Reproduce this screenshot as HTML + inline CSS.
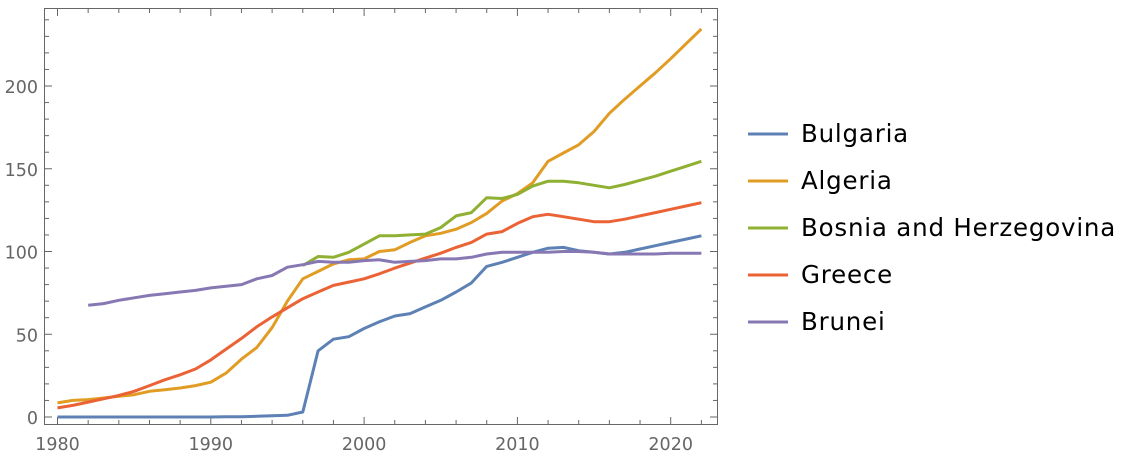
<!DOCTYPE html>
<html><head><meta charset="utf-8"><style>
body{margin:0;background:#fff;}
svg{display:block;font-family:"DejaVu Sans","Liberation Sans",sans-serif;}
</style></head><body>
<svg id="s" width="1126" height="458" viewBox="0 0 1126 458" xmlns="http://www.w3.org/2000/svg">
<rect x="44.5" y="8.5" width="673" height="416" fill="none" stroke="#666" stroke-width="1"/>
<g id="ticks" stroke="#666" stroke-width="1"></g>
<g id="labels" fill="#666" font-size="17.5"></g>
<g id="lines" fill="none" stroke-width="3" stroke-linejoin="round"></g>
<g font-size="24.5" fill="#000" letter-spacing="0.8">
<line x1="748" y1="134" x2="788" y2="134" stroke="#5e81b5" stroke-width="3"/><text x="801" y="142">Bulgaria</text>
<line x1="748" y1="181" x2="788" y2="181" stroke="#e19c24" stroke-width="3"/><text x="801" y="189">Algeria</text>
<line x1="748" y1="228" x2="788" y2="228" stroke="#8fb032" stroke-width="3"/><text x="801" y="236">Bosnia and Herzegovina</text>
<line x1="748" y1="275" x2="788" y2="275" stroke="#eb6235" stroke-width="3"/><text x="801" y="283">Greece</text>
<line x1="748" y1="322" x2="788" y2="322" stroke="#8778b3" stroke-width="3"/><text x="801" y="330">Brunei</text>
</g>
</svg>
<script>
var X=function(y){return 57.5+(y-1980)*15.33;};
var Y=function(v){return 417-v*1.655;};
var ns="http://www.w3.org/2000/svg";
function el(p,t,a,txt){var e=document.createElementNS(ns,t);for(var k in a)e.setAttribute(k,a[k]);if(txt)e.textContent=txt;document.getElementById(p).appendChild(e);}
for(var y=1980;y<=2022;y+=2){var big=y%10==0;el("ticks","line",{x1:X(y),x2:X(y),y1:424,y2:big?417:420});el("ticks","line",{x1:X(y),x2:X(y),y1:9,y2:big?16:13});}
for(var y=1980;y<=2020;y+=10)el("labels","text",{x:X(y),y:450,"text-anchor":"middle"},""+y);
for(var v=0;v<=240;v+=10){var big=v%50==0;if(Y(v)<9)continue;el("ticks","line",{x1:45,x2:big?52:49,y1:Y(v),y2:Y(v)});el("ticks","line",{x1:717,x2:big?710:713,y1:Y(v),y2:Y(v)});}
for(var v=0;v<=200;v+=50)el("labels","text",{x:38,y:Y(v)+7,"text-anchor":"end"},""+v);
var D=[
["#5e81b5",1980,[0,0,0,0,0,0,0,0,0,0,0,0.1,0.2,0.4,0.7,1,3,40,47,48.5,53.5,57.5,61,62.5,66.5,70.5,75.5,81,91,93.5,96.5,99.5,102,102.5,100.5,99.5,98.5,99.5,101.5,103.5,105.5,107.5,109.5]],
["#e19c24",1980,[8.5,10,10.5,11.5,12.5,13.5,15.5,16.5,17.5,19,21,26.5,35,42,54,70,83.5,88,92.5,95,95.5,100,101,105.5,109.5,111,113.5,117.5,123,130.5,135,141.5,154.5,159.5,164.5,172.5,183.5,192,200,208,216.5,225.5,234.5]],
["#8fb032",1996,[91.5,97,96.5,99.5,104.5,109.5,109.5,110,110.5,114.5,121.5,123.5,132.5,132,134.5,139.5,142.5,142.5,141.5,140,138.5,140.5,143,145.5,148.5,151.5,154.5]],
["#eb6235",1980,[5.5,7,9,11,13,15.5,19,22.5,25.5,29,34.5,41,47.5,54.5,60.5,66,71.5,75.5,79.5,81.5,83.5,86.5,90,93,96,99,102.5,105.5,110.5,112,117,121,122.5,121,119.5,118,118,119.5,121.5,123.5,125.5,127.5,129.5]],
["#8778b3",1982,[67.5,68.5,70.5,72,73.5,74.5,75.5,76.5,78,79,80,83.5,85.5,90.5,92,94,93.5,93.5,94.5,95,93.5,94,94.5,95.5,95.5,96.5,98.5,99.5,99.5,99.5,99.5,100,100,99.5,98.5,98.5,98.5,98.5,99,99,99]]];
[0,1,2,3,4].forEach(function(i){var d=D[i];var pts=d[2].map(function(v,j){return X(d[1]+j).toFixed(1)+","+Y(v).toFixed(1);}).join(" ");el("lines","polyline",{points:pts,stroke:d[0]});});
</script>
</body></html>
